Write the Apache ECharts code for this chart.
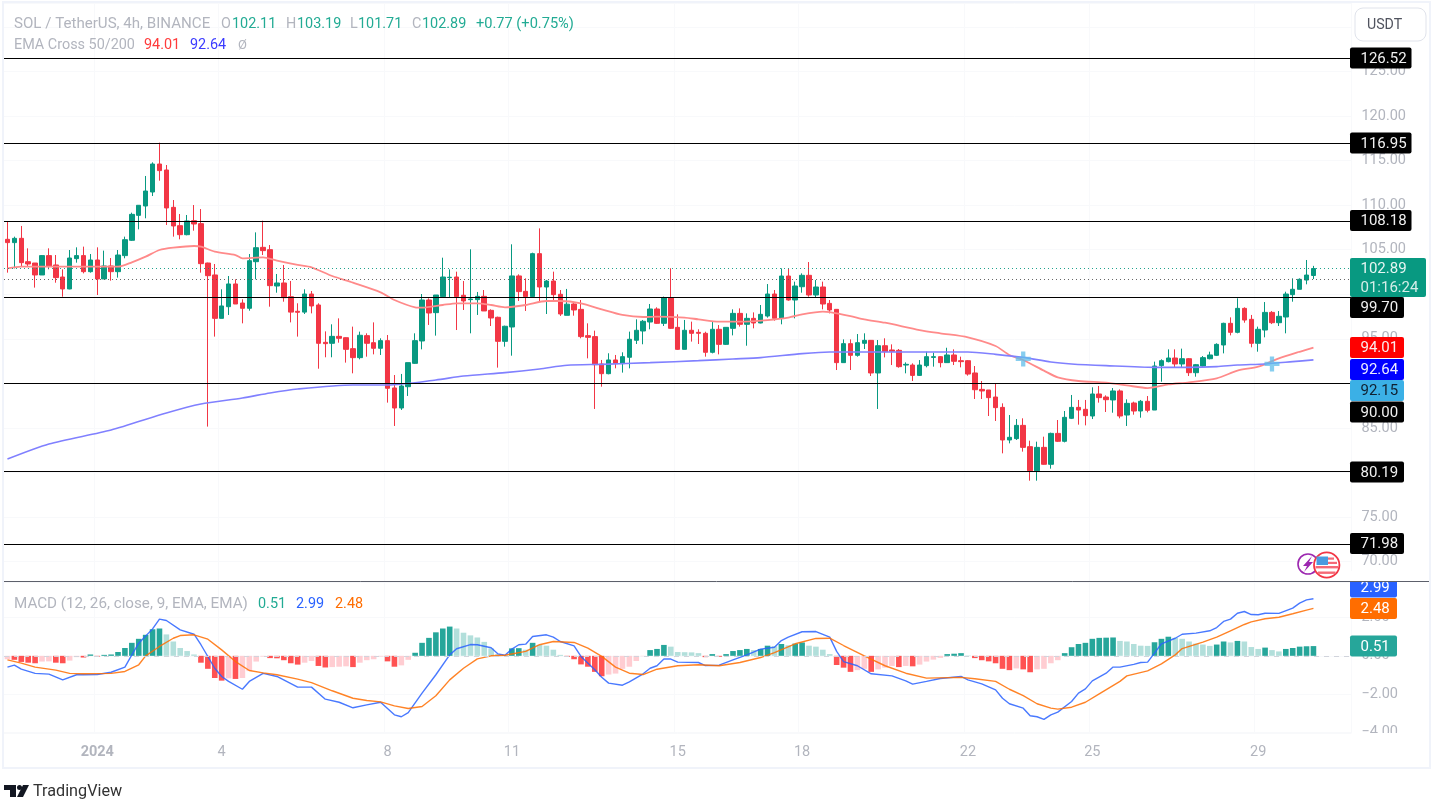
<!DOCTYPE html>
<html><head><meta charset="utf-8">
<script src="https://cdn.jsdelivr.net/npm/echarts@6/dist/echarts.min.js"></script>
<style>html,body{margin:0;padding:0;background:#fff}#c{width:1433px;height:802px}</style>
</head><body><div id="c"></div>
<script>
const opens=[106.17,105.80,106.28,103.66,103.51,102.17,104.34,103.29,101.94,100.60,
104.00,104.34,102.54,103.85,101.72,103.18,102.54,104.34,106.06,108.86,
109.91,111.48,114.62,113.95,109.76,107.70,106.69,108.26,107.93,103.51,
102.17,97.30,98.61,101.16,99.02,98.43,103.66,105.27,105.01,100.93,
101.27,99.73,98.09,98.00,100.03,98.80,94.61,94.50,95.28,95.13,
93.90,92.89,95.36,94.57,93.94,94.80,89.49,87.24,89.63,92.25,
94.76,99.36,97.94,99.74,101.87,101.94,99.89,99.40,99.40,99.77,
98.20,97.42,94.72,96.33,102.06,100.33,99.74,104.56,100.82,101.49,
100.00,97.64,98.91,98.31,95.36,95.25,92.18,91.09,92.63,92.22,
92.93,94.84,95.88,96.89,98.35,96.74,99.59,96.29,93.82,95.96,95.73,
95.62,93.49,96.07,94.38,96.18,97.86,96.63,97.30,96.78,97.56,
100.03,97.30,102.05,99.36,100.85,102.13,99.92,100.82,98.98,98.31,
92.33,94.46,93.15,94.50,94.83,91.17,94.23,93.75,93.71,92.06,
92.06,90.90,91.99,92.92,93.00,92.33,93.19,92.55,92.55,91.17,
89.33,89.26,88.47,87.31,83.65,83.80,85.29,82.90,80.20,82.82,
80.92,84.39,83.50,86.08,87.31,87.09,86.34,88.81,88.47,88.14,
89.15,86.45,87.80,86.90,87.99,87.01,91.99,92.44,92.85,92.18,
92.77,91.20,91.95,92.77,93.15,94.31,96.74,95.73,98.42,97.19,
94.50,95.99,97.97,96.81,97.45,99.96,100.56,101.60,102.11];
const closes=[105.80,106.28,103.55,103.40,102.17,104.34,103.18,101.87,100.60,104.07,
104.34,102.54,103.85,101.72,103.18,102.54,104.41,106.13,108.97,109.99,
111.59,114.62,113.88,109.69,107.67,106.69,108.23,107.89,103.44,102.09,
97.30,98.69,101.16,98.91,98.43,103.77,105.23,104.90,100.97,101.27,
99.62,98.00,97.98,100.03,98.69,94.50,94.46,95.28,95.06,93.82,
92.89,95.40,94.50,93.94,94.80,89.45,87.24,89.71,92.33,94.80,
99.36,97.90,99.92,101.94,101.91,99.74,99.25,99.47,99.77,98.13,
97.34,94.72,96.41,102.06,100.30,99.74,104.56,100.82,101.49,99.96,
97.79,98.89,98.24,95.25,95.17,92.10,91.09,92.63,92.22,93.00,
94.95,95.96,96.97,98.35,96.74,99.59,96.18,93.82,95.96,95.62,95.62,
93.49,96.07,94.38,96.29,97.86,96.63,97.30,96.78,97.75,100.03,
97.30,102.05,99.36,100.93,102.13,99.92,100.82,98.91,98.24,92.33,
94.46,93.15,94.57,94.83,91.17,94.23,93.56,93.60,91.88,92.14,
90.90,92.06,93.00,93.00,92.33,93.19,92.48,92.44,91.05,89.29,
89.15,88.40,87.28,83.65,83.95,85.29,82.82,80.20,82.82,80.92,
84.39,83.50,86.19,87.31,87.01,86.38,88.81,88.40,88.17,89.15,
86.34,87.76,86.90,87.99,86.98,91.95,92.55,92.85,92.18,92.77,
91.20,92.10,92.89,93.19,94.38,96.74,95.73,98.42,97.11,94.50,
96.07,97.97,96.81,97.53,100.03,100.56,101.68,102.16,102.89];
const lows=[102.43,102.91,103.10,103.10,100.75,102.17,102.80,101.30,99.73,100.56,
103.55,102.35,102.43,99.92,101.72,101.53,101.87,104.04,105.98,107.29,
108.53,111.03,112.75,107.78,106.47,106.17,106.62,107.14,102.43,85.15,
95.25,97.30,97.68,98.91,96.74,98.16,101.68,104.41,98.61,100.18,
99.17,96.85,95.25,97.79,97.86,91.65,92.93,92.93,94.57,92.33,
91.13,92.70,93.00,93.26,93.19,87.84,85.22,87.02,88.59,92.18,
93.82,96.56,95.36,99.66,99.66,95.99,98.24,95.62,97.68,98.13,
96.44,91.77,94.12,93.11,99.25,98.13,99.66,99.17,97.79,99.25,
97.57,97.64,97.60,95.06,92.81,87.13,89.63,91.02,91.69,91.21,
91.69,94.42,94.39,96.07,96.67,96.44,96.11,93.75,93.82,94.69,94.42,
93.00,93.37,93.26,94.31,95.39,96.37,94.23,96.18,96.74,97.38,
97.04,96.63,99.28,97.30,100.18,99.73,99.66,98.31,97.86,91.50,
92.33,91.50,93.00,93.86,90.83,87.13,92.92,92.06,91.76,91.13,
90.27,90.83,91.80,91.88,91.80,92.33,92.06,91.80,90.87,88.25,
88.25,86.34,85.78,82.15,83.27,83.65,82.34,79.08,79.08,80.88,
80.43,83.42,83.38,86.00,85.37,85.29,86.00,87.84,86.79,86.71,
86.08,85.22,86.49,86.15,86.75,87.01,90.19,92.36,91.80,91.80,
90.83,90.75,91.88,92.70,93.07,93.37,95.39,95.62,96.81,94.05,
93.56,95.17,96.66,96.44,95.62,99.17,100.56,101.12,101.71];
const highs=[108.15,106.47,107.67,105.16,103.51,104.41,105.16,104.41,102.80,104.97,
105.27,105.35,104.52,105.27,104.90,104.07,104.97,106.47,109.16,110.02,
113.28,114.81,117.02,114.51,110.58,109.01,108.90,110.02,109.57,103.55,
103.40,100.56,102.05,101.68,99.44,104.52,106.95,108.26,105.53,102.28,
103.29,101.49,98.99,100.56,100.37,98.99,95.84,96.63,97.30,95.17,
96.37,95.81,95.62,96.85,95.06,95.43,90.94,91.06,92.33,95.62,
100.03,99.55,99.92,104.11,102.80,102.54,101.49,105.05,100.26,100.48,
98.31,97.49,96.48,105.61,102.24,101.79,104.67,107.40,101.61,102.54,
100.48,100.60,98.99,99.36,96.74,95.92,92.63,93.38,93.19,93.49,
95.81,97.19,97.12,98.91,98.54,99.74,102.92,97.75,97.12,96.93,96.07,
95.80,97.00,96.55,96.29,98.31,98.42,97.86,97.97,98.80,101.15,
100.48,102.91,102.84,101.42,102.35,103.62,101.60,101.42,99.36,98.31,
94.94,94.94,95.54,95.62,94.87,94.87,95.06,94.38,93.86,92.36,
92.25,92.62,93.56,93.45,93.07,94.00,93.82,93.00,92.62,91.95,
90.27,89.26,90.01,87.76,86.45,86.00,86.08,83.57,83.46,84.02,
84.47,85.89,86.90,88.70,88.14,88.14,89.56,89.71,88.66,89.48,
89.33,88.21,87.95,88.14,88.58,92.44,92.70,93.82,93.82,93.90,
92.85,92.18,93.07,93.56,94.50,96.81,97.41,99.55,98.54,97.68,
96.37,99.13,98.12,98.12,100.29,101.79,101.79,103.85,103.19];
const histogram=[-0.18,-0.21,-0.32,-0.36,-0.39,-0.30,-0.29,-0.36,-0.39,-0.25,
-0.07,-0.09,0.07,-0.04,0.05,0.07,0.20,0.41,0.68,0.89,
1.10,1.39,1.43,1.12,0.75,0.41,0.25,0.07,-0.36,-0.68,
-1.16,-1.30,-1.18,-1.21,-1.16,-0.80,-0.30,-0.04,-0.12,-0.13,
-0.23,-0.39,-0.46,-0.36,-0.27,-0.53,-0.61,-0.59,-0.57,-0.55,
-0.59,-0.36,-0.23,-0.18,-0.04,-0.29,-0.57,-0.50,-0.21,0.16,
0.68,0.94,1.23,1.43,1.53,1.43,1.21,1.07,0.96,0.73,
0.39,0.09,0.04,0.39,0.40,0.32,0.68,0.57,0.53,0.32,
0.05,-0.05,-0.18,-0.45,-0.57,-0.84,-1.07,-0.98,-0.93,-0.68,
-0.57,-0.27,-0.02,0.30,0.36,0.57,0.48,0.20,0.19,0.18,
0.14,-0.07,0.09,-0.05,0.09,0.25,0.30,0.36,0.30,0.36,
0.53,0.50,0.62,0.55,0.64,0.70,0.53,0.48,0.32,0.09,
-0.48,-0.62,-0.84,-0.75,-0.68,-0.84,-0.71,-0.62,-0.53,-0.59,
-0.53,-0.55,-0.46,-0.30,-0.20,-0.11,0.09,0.11,0.14,0.02,
-0.12,-0.23,-0.29,-0.39,-0.68,-0.75,-0.66,-0.71,-0.86,-0.71,
-0.68,-0.39,-0.23,0.14,0.45,0.62,0.68,0.89,0.94,0.95,
0.96,0.78,0.75,0.62,0.53,0.52,0.71,0.89,1.00,0.94,
0.89,0.75,0.64,0.59,0.52,0.59,0.75,0.70,0.78,0.75,
0.46,0.36,0.43,0.30,0.23,0.36,0.41,0.48,0.50,0.51];
const ema50=[[0,102.91],[2,103.10],[6,103.10],[11,103.10],[16,103.10],[18,103.59],[20,104.22],[22,104.97],[24,105.23],[27,105.42],[28,105.35],[30,104.79],[33,104.41],[34,104.04],[37,104.15],[39,103.77],[42,103.29],[44,103.03],[47,102.05],[50,101.30],[54,100.22],[56,99.36],[59,98.54],[60,98.50],[63,98.80],[65,98.99],[68,98.99],[70,98.80],[72,98.54],[75,98.80],[78,99.25],[80,99.25],[83,98.99],[86,98.31],[89,97.68],[92,97.45],[94,97.49],[98,97.38],[100,97.19],[103,96.93],[106,96.93],[110,97.11],[113,97.38],[115,97.75],[118,98.05],[119,98.01],[122,97.56],[124,97.19],[127,96.81],[132,95.99],[135,95.62],[139,95.17],[143,94.20],[145,93.19],[147,92.62],[150,91.43],[152,90.68],[155,90.27],[159,90.08],[162,89.78],[165,89.48],[168,89.89],[171,90.12],[175,90.57],[178,91.43],[181,91.88],[184,92.81],[187,93.55],[189,94.01]];
const ema200=[[0,81.51],[6,83.2],[15,84.77],[23,86.68],[28,87.69],[34,88.36],[38,88.93],[42,89.37],[50,89.82],[55,89.82],[62,90.38],[66,90.83],[72,91.21],[77,91.62],[81,92.03],[86,92.14],[93,92.33],[100,92.55],[105,92.74],[109,92.89],[115,93.34],[119,93.52],[124,93.52],[129,93.52],[134,93.52],[139,93.52],[143,93.26],[147,92.92],[151,92.40],[154,92.18],[159,91.99],[166,91.80],[171,91.80],[175,91.88],[178,92.06],[182,92.18],[186,92.44],[189,92.64]];
const macdLine=[[0,-0.59],[1,-0.49],[2,-0.70],[4,-0.92],[6,-0.96],[8,-1.26],[10,-0.99],[11,-0.99],[13,-0.98],[15,-0.86],[17,-0.59],[18,0.05],[19,0.66],[21,1.41],[22,1.92],[23,1.85],[25,1.36],[27,1.13],[28,0.58],[30,-0.65],[31,-1.08],[32,-1.34],[34,-1.75],[35,-1.34],[37,-0.92],[39,-1.08],[42,-1.64],[44,-1.64],[46,-2.27],[48,-2.43],[50,-2.72],[52,-2.57],[54,-2.43],[56,-3.09],[57,-3.19],[58,-2.97],[60,-1.95],[62,-0.99],[64,0.05],[65,0.37],[67,0.59],[68,0.58],[70,0.42],[71,0.10],[72,0.03],[73,0.35],[74,0.58],[75,0.61],[76,1.01],[78,1.10],[79,0.98],[80,0.75],[82,0.52],[83,-0.03],[85,-0.73],[86,-1.12],[87,-1.43],[89,-1.54],[90,-1.36],[92,-0.94],[93,-0.65],[94,-0.52],[95,-0.17],[96,-0.17],[97,-0.33],[100,-0.35],[101,-0.51],[103,-0.49],[105,-0.21],[107,0.05],[109,0.35],[111,0.45],[112,0.80],[113,0.98],[115,1.26],[117,1.27],[119,0.98],[120,0.23],[121,-0.30],[123,-0.52],[125,-0.94],[128,-1.05],[130,-1.31],[131,-1.48],[133,-1.34],[135,-1.19],[138,-1.08],[139,-1.26],[141,-1.47],[143,-1.78],[144,-2.22],[145,-2.51],[147,-2.74],[148,-3.14],[149,-3.19],[150,-3.33],[151,-3.09],[152,-2.95],[154,-2.39],[155,-1.95],[156,-1.73],[157,-1.31],[159,-0.91],[160,-0.59],[161,-0.59],[163,-0.45],[164,-0.35],[165,-0.33],[166,0.14],[167,0.63],[169,0.92],[170,1.13],[172,1.19],[174,1.31],[175,1.48],[176,1.80],[177,1.92],[178,2.23],[179,2.32],[180,2.16],[181,2.15],[182,2.23],[184,2.22],[186,2.50],[187,2.76],[188,2.93],[189,2.99]];
const signalLine=[[0,-0.21],[2,-0.38],[4,-0.59],[7,-0.75],[9,-0.92],[11,-0.94],[15,-0.92],[17,-0.82],[19,-0.47],[20,0.00],[22,0.49],[24,0.92],[25,1.06],[27,1.10],[29,0.87],[31,0.31],[33,-0.30],[35,-0.77],[37,-0.89],[39,-0.99],[42,-1.22],[44,-1.40],[47,-1.83],[50,-2.22],[52,-2.34],[54,-2.41],[56,-2.62],[58,-2.76],[60,-2.65],[62,-2.09],[64,-1.26],[66,-0.65],[68,-0.16],[70,0.00],[72,0.03],[75,0.23],[77,0.58],[79,0.75],[82,0.70],[84,0.40],[86,-0.03],[88,-0.59],[90,-0.91],[92,-0.98],[94,-0.70],[97,-0.52],[100,-0.47],[103,-0.52],[106,-0.35],[109,-0.09],[111,0.17],[114,0.63],[117,0.91],[119,0.92],[121,0.54],[124,0.00],[127,-0.52],[130,-0.91],[133,-1.17],[138,-1.13],[140,-1.20],[143,-1.34],[145,-1.75],[147,-2.08],[149,-2.51],[151,-2.74],[152,-2.79],[154,-2.69],[156,-2.43],[158,-1.99],[161,-1.34],[162,-1.05],[165,-0.79],[167,-0.42],[169,0.05],[170,0.38],[173,0.72],[175,0.98],[177,1.31],[179,1.64],[180,1.78],[182,1.94],[184,2.02],[186,2.20],[188,2.39],[189,2.48]];
const crossMarks=[[147,92.74],[183,92.18]];
const levels=[126.52,116.95,108.18,99.70,90.00,80.19,71.98];
const lastClose=102.89, prevLevel=101.66;
const priceTicks=[70,75,80,85,90,95,100,105,110,115,120,125];
const macdTicks=[-4,-2,0,2];
const timeLabels=['2024','4','8','11','15','18','22','25','29'];
const timeIndexes=[13,31,55,73,97,115,139,157,181];
const slotCount=195;

const GREEN='#089981',RED='#F23645',GREY='#B2B5BE',FONT='Roboto, "Noto Sans", sans-serif';
const categories=Array.from({length:slotCount},(_,i)=>String(i));
const candles=opens.map((o,i)=>[o,closes[i],lows[i],highs[i]]);
const histColor=i=>{const v=histogram[i],p=i?histogram[i-1]:v;
  return v>=0?(v>=p?'#26A69A':'#B2DFDB'):(v<p?'#FF5252':'#FFCDD2');};
const isTimeTick=i=>timeIndexes.includes(i);
const fmtTick=v=>v.toFixed(2).replace('-','\u2212');

const g=[];
function txt(x,y,t,fill,size,extra){g.push({type:'text',z:101,silent:true,x,y:y+1.5,style:Object.assign({text:t,fill,font:(size||14)+'px '+FONT,textVerticalAlign:'middle',textBaseline:'middle'},extra||{})});}
function tag(t,y,bg,fg,w){const W=w||(t.length>5?61.5:54),H=21;
  g.push({type:'rect',z:100,silent:true,shape:{x:1350,y:y-H/2,width:W,height:H,r:2},style:{fill:bg}});
  g.push({type:'text',z:101,silent:true,x:1360.5,y:y+1,style:{text:t,fill:fg,font:'15px '+FONT,textVerticalAlign:'middle',textBaseline:'middle'}});}
// frame
g.push({type:'rect',z:90,silent:true,shape:{x:3,y:2,width:1427,height:766},style:{fill:'none',stroke:'#F0F3FA',lineWidth:2}});
// header
txt(14,23,'SOL / TetherUS, 4h, BINANCE',GREY,15.1);
const hc='#22AB94';
txt(221,23,'O',GREY,14.4);txt(232,23,'102.11',hc,14.4);
txt(286,23,'H',GREY,14.4);txt(297,23,'103.19',hc,14.4);
txt(350,23,'L',GREY,14.4);txt(358,23,'101.71',hc,14.4);
txt(412,23,'C',GREY,14.4);txt(422,23,'102.89',hc,14.4);
txt(476,23,'+0.77 (+0.75%)',hc,14.6);
txt(14,44,'EMA Cross 50/200',GREY,14.4);
txt(144,44,'94.01','#FF3B3B',14.4);txt(190,44,'92.64','#3B3BFF',14.4);txt(238,44,'\u00D8',GREY,13);
txt(14,603,'MACD (12, 26, close, 9, EMA, EMA)',GREY,15.2);
txt(258,603,'0.51',hc,14.4);txt(296,603,'2.99','#2962FF',14.4);txt(335,603,'2.48','#FF6D00',14.4);
// USDT button
g.push({type:'rect',z:100,silent:true,shape:{x:1355,y:8,width:71,height:33,r:8},style:{fill:'#fff',stroke:'#E0E3EB',lineWidth:1}});
txt(1367,24,'USDT','#50535E',14.2);
// right scale tags
tag('126.52',58,'#000','#F0F0F0');tag('116.95',143,'#000','#F0F0F0');tag('108.18',220.5,'#000','#F0F0F0');
tag('99.70',307.5,'#000','#F0F0F0');tag('94.01',347.5,'#FF0000','#FBECEC');tag('92.64',369.5,'#0000FF','#ECECFF');
tag('92.15',390.5,'#3BB0E6','#102030');tag('90.00',412,'#000','#F0F0F0');tag('80.19',472,'#000','#F0F0F0');tag('71.98',543.5,'#000','#F0F0F0');
g.push({type:'rect',z:100,silent:true,shape:{x:1350,y:258,width:76,height:39,r:2},style:{fill:GREEN}});
g.push({type:'text',z:101,silent:true,x:1360.5,y:269,style:{text:'102.89',fill:'#E6F5F2',font:'15px '+FONT,textVerticalAlign:'middle',textBaseline:'middle'}});
g.push({type:'text',z:101,silent:true,x:1360.5,y:288,style:{text:'01:16:24',fill:'#D6EEE9',font:'15px '+FONT,textVerticalAlign:'middle',textBaseline:'middle'}});
tag('2.99',587,'#2962FF','#fff',47);tag('2.48',608.5,'#FF6D00','#fff',47);tag('0.51',646,'#26A69A','#fff',47);
// cover above MACD pane and below -4.00
g.push({type:'rect',z:110,silent:true,shape:{x:1345,y:571,width:60,height:10.5},style:{fill:'#fff'}});
g.push({type:'rect',z:110,silent:true,shape:{x:1352,y:733,width:70,height:12},style:{fill:'#fff'}});
g.push({type:'line',z:111,silent:true,shape:{x1:4,y1:581.5,x2:1429,y2:581.5},style:{stroke:'#5D606B',lineWidth:1}});
// event icons
g.push({type:'circle',z:100,silent:true,shape:{cx:1308,cy:564,r:10},style:{fill:'#fff',stroke:'#9C27B0',lineWidth:1.6}});
g.push({type:'polygon',z:100,silent:true,shape:{points:[[1312,556],[1303,566],[1307,566],[1304,572],[1313,562],[1309,562]]},style:{fill:'#9C27B0'}});
g.push({type:'circle',z:101,silent:true,shape:{cx:1326.7,cy:565,r:12.7},style:{fill:'#fff',stroke:'#F23645',lineWidth:1.8}});
g.push({type:'rect',z:102,silent:true,shape:{x:1328,y:557.5,width:6,height:2.2},style:{fill:'#F56A77'}});
g.push({type:'rect',z:102,silent:true,shape:{x:1328,y:561.8,width:9,height:2.2},style:{fill:'#F56A77'}});
g.push({type:'rect',z:102,silent:true,shape:{x:1315.5,y:566,width:22.5,height:2.4},style:{fill:'#F56A77'}});
g.push({type:'rect',z:102,silent:true,shape:{x:1318,y:571.5,width:17.5,height:2.4},style:{fill:'#F56A77'}});
g.push({type:'rect',z:103,silent:true,shape:{x:1316.5,y:556.5,width:11.5,height:8.5},style:{fill:'#4A9BE0'}});
// TradingView logo
g.push({type:'polygon',z:100,silent:true,shape:{points:[[4,785],[16,785],[16,797],[10,797],[10,790],[4,790]]},style:{fill:'#131722'}});
g.push({type:'circle',z:100,silent:true,shape:{cx:19.5,cy:787.5,r:2.5},style:{fill:'#131722'}});
g.push({type:'polygon',z:100,silent:true,shape:{points:[[23,785],[29,785],[23,797],[17,797]]},style:{fill:'#131722'}});
txt(33,790,'TradingView','#333',16.2);

const levelLines=levels.map(v=>({yAxis:v,lineStyle:{color:'#000',width:1.1,type:'solid',opacity:1}}));
levelLines.push({yAxis:lastClose,lineStyle:{color:GREEN,width:1,type:[1,3],opacity:.9}});
levelLines.push({yAxis:prevLevel,lineStyle:{color:'#555',width:1,type:[1,3],opacity:.9}});

const chart=echarts.init(document.getElementById('c'),null,{renderer:'canvas'});
chart.setOption({
  animation:false,backgroundColor:'#fff',
  grid:[{left:4,top:3,width:1347.45,height:578},{left:4,top:582,width:1347.45,height:151}],
  xAxis:[
   {type:'category',gridIndex:0,data:categories,boundaryGap:true,axisLine:{show:false},axisTick:{show:false},axisLabel:{show:false},
    splitLine:{show:true,interval:i=>isTimeTick(i),lineStyle:{color:'#F8F9FB',width:1}}},
   {type:'category',gridIndex:1,data:categories,boundaryGap:true,axisLine:{show:false},axisTick:{show:false},
    splitLine:{show:true,interval:i=>isTimeTick(i),lineStyle:{color:'#F8F9FB',width:1}},
    axisLabel:{show:true,interval:i=>isTimeTick(i),margin:12,color:GREY,fontFamily:FONT,fontSize:14.5,
      formatter:v=>{const t=timeLabels[timeIndexes.indexOf(+v)];return t==='2024'?'{b|2024}':t;},
      rich:{b:{fontWeight:700,color:GREY,fontFamily:FONT,fontSize:14.5}}}}
  ],
  yAxis:[
   {type:'value',gridIndex:0,position:'right',min:67.822,max:132.693,splitNumber:13,scale:true,axisLine:{show:false},axisTick:{show:false},
    splitLine:{show:true,lineStyle:{color:'#F8F9FB',width:1}},
    axisLabel:{customValues:priceTicks,margin:10,color:GREY,fontFamily:FONT,fontSize:14.5,formatter:fmtTick}},
   {type:'value',gridIndex:1,position:'right',min:-4.04,max:3.864,splitNumber:4,scale:true,axisLine:{show:false},axisTick:{show:false},
    splitLine:{show:true,lineStyle:{color:'#F8F9FB',width:1}},
    axisLabel:{customValues:macdTicks,margin:10,color:GREY,fontFamily:FONT,fontSize:14.5,formatter:fmtTick}}
  ],
  series:[
   {type:'line',name:'EMA 50',xAxisIndex:0,yAxisIndex:0,data:ema50,showSymbol:false,smooth:0.25,z:4,silent:true,lineStyle:{color:'#FF8A8A',width:1.8}},
   {type:'line',name:'EMA 200',xAxisIndex:0,yAxisIndex:0,data:ema200,showSymbol:false,smooth:0.25,z:4,silent:true,lineStyle:{color:'#8080FF',width:1.6}},
   {type:'candlestick',name:'SOL',xAxisIndex:0,yAxisIndex:0,data:candles,barWidth:5,z:3,silent:true,
    itemStyle:{color:GREEN,color0:RED,borderColor:GREEN,borderColor0:RED,borderWidth:1},
    markLine:{silent:true,symbol:'none',animation:false,label:{show:false},data:levelLines}},
   {type:'scatter',name:'Cross',xAxisIndex:0,yAxisIndex:0,data:crossMarks,z:5,silent:true,symbol:'path://M5,0h4v5h5v4h-5v5h-4v-5h-5v-4h5z',symbolSize:15,itemStyle:{color:'#5FBDEA',opacity:.75}},
   {type:'bar',name:'Histogram',xAxisIndex:1,yAxisIndex:1,data:histogram,barWidth:5.6,z:2,silent:true,
    itemStyle:{color:p=>histColor(p.dataIndex)},
    markLine:{silent:true,symbol:'none',animation:false,label:{show:false},data:[{yAxis:0,lineStyle:{color:'#D1D4DC',width:1,type:[5,5]}}]}},
   {type:'line',name:'MACD',xAxisIndex:1,yAxisIndex:1,data:macdLine,showSymbol:false,z:4,silent:true,lineStyle:{color:'#2962FF',width:1.4,opacity:.85}},
   {type:'line',name:'Signal',xAxisIndex:1,yAxisIndex:1,data:signalLine,showSymbol:false,z:4,silent:true,lineStyle:{color:'#FF6D00',width:1.4,opacity:.85}}
  ],
  graphic:{elements:g}
});
</script></body></html>
